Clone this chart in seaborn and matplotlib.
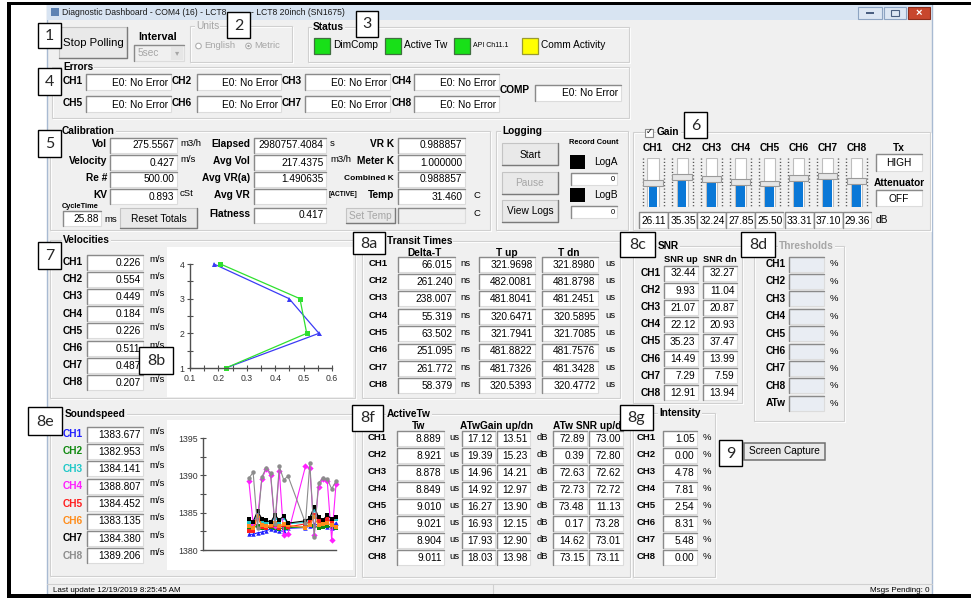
import matplotlib
matplotlib.use('Agg')
import matplotlib.pyplot as plt
from matplotlib.patches import Rectangle, Circle
import pandas as pd
import seaborn as sns

# ---- values ----
channels = ['CH1', 'CH2', 'CH3', 'CH4', 'CH5', 'CH6', 'CH7', 'CH8']
error_text = ['E0: No Error'] * 8
comp_error = 'E0: No Error'

cal_labels_1 = ['Vol', 'Velocity', 'Re #', 'KV']
cal_values_1 = ['275.5567', '0.427', '500.00', '0.893']
cal_units_1 = ['m3/h', 'm/s', '', 'cSt']
cal_labels_2 = ['Elapsed', 'Avg Vol', 'Avg VR(a)', 'Avg VR', 'Flatness']
cal_values_2 = ['2980757.4084', '217.4375', '1.490635', '', '0.417']
cal_units_2 = ['s', 'm3/h', '', '', '']
cal_labels_3 = ['VR K', 'Meter K', 'Combined K', 'Temp']
cal_values_3 = ['0.988857', '1.000000', '0.988857', '31.460']
cycle_time = '25.88'

gain_db = [26.11, 35.35, 32.24, 27.85, 25.50, 33.31, 37.10, 29.36]
gain_range = (-10, 64)

velocities = [0.226, 0.554, 0.449, 0.184, 0.226, 0.511, 0.487, 0.207]
profile_levels = [1, 2, 3, 4]

delta_t = [66.015, 261.240, 238.007, 55.319, 63.502, 251.095, 261.772, 58.379]
t_up = [321.9698, 482.0081, 481.8041, 320.6471, 321.7941, 481.8822, 481.7326, 320.5393]
t_dn = [321.8980, 481.8798, 481.2451, 320.5895, 321.7085, 481.7576, 481.3428, 320.4772]

snr_up = [32.44, 9.93, 21.07, 22.12, 35.23, 14.49, 7.29, 12.91]
snr_dn = [32.27, 11.04, 20.87, 20.93, 37.47, 13.99, 7.59, 13.94]

soundspeed = [1383.677, 1382.953, 1384.141, 1388.807, 1384.452, 1383.135, 1384.380, 1389.206]
ss_time = [11, 12, 13, 14, 15, 16, 17, 18, 19, 20, 24, 25, 26, 27, 28, 29, 30, 31]
ss_ch1 = [1382.1, 1382.1, 1382.3, 1382.4, 1382.6, 1382.8, 1382.7, 1382.6, 1382.5, 1382.9,
          1383.0, 1383.2, 1383.5, 1383.3, 1383.4, 1383.1, 1383.0, 1383.677]
ss_ch2 = [1382.9, 1383.0, 1383.2, 1383.0, 1382.9, 1383.1, 1383.0, 1382.8, 1383.0, 1383.0,
          1383.1, 1383.4, 1383.2, 1383.0, 1383.1, 1383.2, 1383.1, 1382.953]
ss_ch3 = [1383.6, 1383.4, 1384.8, 1383.9, 1383.5, 1383.7, 1384.3, 1383.8, 1384.3, 1383.5,
          1383.7, 1384.1, 1385.3, 1384.0, 1383.8, 1384.2, 1383.9, 1384.141]
ss_ch4 = [1389.3, 1383.5, 1384.4, 1389.5, 1390.9, 1390.0, 1383.2, 1390.6, 1382.0, 1382.2,
          1391.2, 1391.0, 1382.0, 1388.5, 1389.5, 1389.2, 1381.4, 1388.807]
ss_ch5 = [1382.6, 1382.6, 1384.6, 1383.1, 1383.0, 1383.2, 1383.4, 1383.0, 1383.3, 1383.1,
          1383.5, 1383.8, 1384.7, 1383.9, 1383.6, 1384.2, 1383.7, 1384.452]
ss_ch6 = [1383.2, 1383.0, 1384.5, 1383.4, 1383.2, 1383.3, 1383.6, 1383.2, 1383.5, 1383.3,
          1383.0, 1383.4, 1384.4, 1383.3, 1383.5, 1383.6, 1383.3, 1383.135]
ss_ch7 = [1384.1, 1383.8, 1385.2, 1384.2, 1384.0, 1383.7, 1384.7, 1384.0, 1384.6, 1383.6,
          1383.9, 1384.3, 1385.8, 1384.4, 1384.0, 1384.7, 1384.1, 1384.380]
ss_ch8 = [1389.6, 1390.4, 1383.0, 1389.8, 1391.0, 1390.3, 1383.5, 1391.2, 1389.4, 1389.9,
          1383.6, 1391.6, 1381.8, 1389.0, 1389.6, 1389.5, 1388.2, 1389.206]
ss_colors = ['#1f1fff', '#118a11', '#1fc8c8', '#ff1fff', '#ff1f1f', '#ff8c1a', '#000000', '#8c8c8c']
ss_markers = ['^', 's', 's', 'D', 's', 's', 's', 'o']

tw = [8.889, 8.921, 8.878, 8.849, 9.010, 9.021, 8.904, 9.011]
atw_gain_up = [17.12, 19.39, 14.96, 14.92, 16.27, 16.93, 17.93, 18.03]
atw_gain_dn = [13.51, 15.23, 14.21, 12.97, 13.90, 12.15, 12.90, 13.98]
atw_snr_up = [72.89, 0.39, 72.63, 72.73, 73.48, 0.17, 14.62, 73.15]
atw_snr_dn = [73.00, 72.80, 72.62, 72.72, 11.13, 73.28, 73.01, 73.11]

intensity = [1.05, 0.00, 4.78, 7.81, 2.54, 8.31, 5.48, 0.00]

# ---- canvas ----
sns.set_theme(style='white')
plt.rcParams['font.family'] = ['Liberation Sans', 'DejaVu Sans']

W, H = 971, 598
fig = plt.figure(figsize=(W / 100, H / 100), dpi=100)
fig.patch.set_facecolor('white')
ui = fig.add_axes([0, 0, 1, 1])
ui.set_xlim(0, W)
ui.set_ylim(H, 0)
ui.axis('off')

BG = '#f0f0f0'
FS = 7.3


def px_axes(x0, y0, x1, y1):
    return fig.add_axes([x0 / W, 1 - y1 / H, (x1 - x0) / W, (y1 - y0) / H])


def box(x0, y0, x1, y1, fc='none', ec='none', lw=0.8, z=1):
    ui.add_patch(Rectangle((x0, y0), x1 - x0, y1 - y0, facecolor=fc,
                           edgecolor=ec, linewidth=lw, zorder=z))


def label(x, y, s, ha='left', size=FS, bold=False, color='black', z=6, **kw):
    return ui.text(x, y, s, ha=ha, va='center', fontsize=size,
                   fontweight='bold' if bold else 'normal', color=color, zorder=z, **kw)


def field(x0, y0, x1, y1, s='', ha='right', fc='white', size=FS, clip=False):
    box(x0, y0, x1, y1, fc=fc, ec='#dcdcdc', lw=0.8, z=3)
    ui.plot([x0, x0, x1], [y1, y0, y0], color='#8a8a8a', lw=1.0, zorder=4)
    if s:
        x = {'right': x1 - 2.5, 'left': x0 + 2, 'center': (x0 + x1) / 2}[ha]
        t = label(x, (y0 + y1) / 2 + 0.5, s, ha=ha, size=size)
        if clip:
            t.set_clip_path(Rectangle((x0, y0), x1 - x0, y1 - y0, transform=ui.transData))


def group(x0, y0, x1, y1, title, tx, color='black', bold=True):
    box(x0 + 1, y0 + 1, x1 + 1, y1 + 1, ec='white', lw=0.8, z=1)
    box(x0, y0, x1, y1, ec='#d0d0d0', lw=0.8, z=1)
    label(tx, y0, title, bold=bold, color=color,
          bbox=dict(facecolor=BG, edgecolor='none', pad=0.8))


def button(x0, y0, x1, y1, s, enabled=True, size=FS):
    box(x0, y0, x1, y1, fc='#e9e9e9', ec='#c4c4c4', lw=0.8, z=3)
    ui.plot([x0, x1, x1], [y1, y1, y0], color='#7a7a7a', lw=1.0, zorder=4)
    label((x0 + x1) / 2, (y0 + y1) / 2 + 0.5, s, ha='center', size=size,
          color='black' if enabled else '#a6a6a6')


def tag(x0, y0, x1, y1, s):
    box(x0, y0, x1, y1, fc='white', ec='black', lw=1.0, z=9)
    ui.text((x0 + x1) / 2, (y0 + y1) / 2 + 0.5, s, ha='center', va='center',
            fontsize=11.5, family=['Lato', 'DejaVu Sans'], zorder=10)


# window
box(47, 4, 932, 598, fc=BG, ec='#a8bad2', lw=1.0, z=0.5)
box(47, 4, 932, 20, fc='#d8e4f2', z=0.6)
box(51, 8, 59, 16, fc='#5d82b3', z=1)
label(62, 12.5, 'Diagnostic Dashboard - COM4 (16) - LCT8', size=6.2, color='#1a1a1a')
label(251, 12.5, '- LCT8 20inch (SN1675)', size=6.2, color='#1a1a1a')
box(858, 7, 882, 19, fc='#dde7f3', ec='#8da4c2', lw=0.8, z=2)
box(866, 12, 874, 14, fc='#4a5f80', z=3)
box(884, 7, 906, 19, fc='#dde7f3', ec='#8da4c2', lw=0.8, z=2)
box(891, 10, 899, 16, ec='#4a5f80', lw=0.8, z=3)
box(908, 7, 930, 19, fc='#c8472d', ec='#8d2e1c', lw=0.8, z=2)
label(919, 13, '×', ha='center', size=8, color='white', bold=True)

# status bar
ui.plot([47, 932], [583.5, 583.5], color='#d0d0d0', lw=0.8, zorder=2)
ui.plot([493, 493], [584, 594], color='#d0d0d0', lw=0.8, zorder=2)
label(53, 590, 'Last update 12/19/2019 8:25:45 AM', size=5.8)
label(930, 590, 'Msgs Pending: 0', ha='right', size=5.8)

# top row
button(59, 27, 127, 58, 'Stop Polling', size=8.2)
tag(38, 23, 61, 48, '1')
label(158, 37, 'Interval', ha='center', bold=True, size=7.8)
field(134, 45, 184, 61, fc=BG)
label(138, 53.5, '5sec', color='#a6a6a6')
box(171, 47, 183, 60, fc='#e6e6e6', z=4)
label(177, 53.5, '▾', ha='center', size=6, color='#a6a6a6')
group(190, 26, 292, 62, 'Units', tx=196, color='#a6a6a6', bold=False)
ui.add_patch(Circle((198.5, 46), 2.8, facecolor='white', edgecolor='#b0b0b0', lw=0.8, zorder=4))
label(204, 46, 'English', size=6.8, color='#a6a6a6')
ui.add_patch(Circle((248.5, 46), 2.8, facecolor='white', edgecolor='#b0b0b0', lw=0.8, zorder=4))
ui.add_patch(Circle((248.5, 46), 1.2, facecolor='#a0a0a0', lw=0, zorder=5))
label(254, 46, 'Metric', size=6.8, color='#a6a6a6')
tag(227, 12, 250, 38, '2')
group(308, 27, 629, 62, 'Status', tx=313)
tag(356, 11, 378, 37, '3')
status_items = [(314, 'DimComp', '#18e018', FS), (385, 'Active Tw', '#18e018', FS),
                (454, 'API Ch11.1', '#18e018', 5.0), (522, 'Comm Activity', '#ffff00', FS)]
for sx, name, col, sz in status_items:
    box(sx, 38, sx + 16, 54, fc=col, ec='#3f6f3f' if col != '#ffff00' else '#9a9a30', lw=0.9, z=3)
    label(sx + 19, 45.5, name, size=sz)

# errors
group(52, 67, 629, 118, 'Errors', tx=63)
tag(38, 68, 61, 95, '4')
err_cols = [(63, 86, 171), (172, 197, 281), (282, 305, 390), (392, 414, 499)]
for r, yc in enumerate([82, 104]):
    for c, (lx, fx0, fx1) in enumerate(err_cols):
        i = r * 4 + c
        label(lx, yc - 1, channels[i], bold=True)
        field(fx0, yc - 8, fx1, yc + 8, error_text[i])
label(500, 90, 'COMP', bold=True)
field(535, 85, 621, 101, comp_error)

# calibration
group(50, 131, 490, 230, 'Calibration', tx=62)
tag(38, 130, 61, 157, '5')
cal_y = [145, 162, 179, 196]
for i, yc in enumerate(cal_y):
    label(107, yc - 1, cal_labels_1[i], ha='right', bold=True)
    field(110, yc - 7.5, 177, yc + 7.5, cal_values_1[i])
    label(180, yc - 2, cal_units_1[i], size=6.8)
for i, yc in enumerate(cal_y + [215]):
    label(250, yc - 1, cal_labels_2[i], ha='right', bold=True)
    field(254, yc - 7.5, 326, yc + 7.5, cal_values_2[i])
    label(330, yc - 2, cal_units_2[i], size=6.8)
for i, yc in enumerate(cal_y):
    label(394, yc - 1, cal_labels_3[i], ha='right', bold=True,
          size=6.0 if cal_labels_3[i] == 'Combined K' else FS)
    field(398, yc - 7.5, 465, yc + 7.5, cal_values_3[i])
label(357, cal_y[3] - 1.5, '[ACTIVE]', ha='right', size=4.8, bold=True)
label(474, cal_y[3] - 1, 'C', size=6.8)
label(62, 206, 'CycleTime', size=5.3, bold=True)
field(63, 211, 101, 226, cycle_time)
label(104, 219, 'ms', size=6.8)
button(120, 208, 197, 228, 'Reset Totals')
button(346, 208, 395, 223, 'Set Temp', enabled=False)
field(398, 208, 465, 223, fc=BG)
label(474, 213, 'C', size=6.8)

# logging
group(496, 131, 628, 230, 'Logging', tx=502)
button(502, 143, 558, 165, 'Start')
button(502, 172, 558, 194, 'Pause', enabled=False)
button(502, 200, 558, 222, 'View Logs')
label(594, 142, 'Record Count', ha='center', size=5.4, bold=True)
for yb, name in [(155, 'LogA'), (188, 'LogB')]:
    box(570, yb, 585, yb + 14, fc='black', z=3)
    label(594, yb + 7, name)
    field(571, yb + 18, 617, yb + 30, '0', size=5.4)

# gain
group(633, 132, 930, 230, 'Gain', tx=657)
box(645, 128.5, 653, 136.5, fc='white', ec='#8a8a8a', lw=0.8, z=7)
label(649, 132.5, '✓', ha='center', size=6, z=8)
tag(684, 112, 707, 138, '6')
gain_cx = [653 + 29.1 * i for i in range(8)]
for i, cx in enumerate(gain_cx):
    label(cx, 148, channels[i], ha='center', bold=True)
    ui.vlines([cx - 10.5, cx + 10.5], 158, 206, colors='#4a4a4a',
              linestyles=(0, (0.8, 1.6)), lw=1.0, zorder=2)
    field(cx - 14, 212, cx + 14, 228, f'{gain_db[i]:.2f}', ha='left', clip=True)
label(876, 220, 'dB')
label(899, 148, 'Tx', ha='center', bold=True)
field(876, 154, 922, 171, 'HIGH', ha='center')
label(899, 183, 'Attenuator', ha='center', bold=True)
field(876, 190, 922, 206, 'OFF', ha='center')

gax = px_axes(gain_cx[0] - 14.55, 158, gain_cx[-1] + 14.55, 207)
gax.set_axis_off()
lo, hi = gain_range
xs = list(range(8))
gax.bar(xs, hi - lo, bottom=lo, width=0.38, color='white', edgecolor='#bdbdbd', lw=0.8)
gax.bar(xs, [g - lo for g in gain_db], bottom=lo, width=0.3, color='#0a78d7', lw=0)
gax.bar(xs, 9, bottom=[g - 4.5 for g in gain_db], width=0.66, color='#e6e6e6',
        edgecolor='#9a9a9a', lw=0.8)
gax.set_xlim(-0.5, 7.5)
gax.set_ylim(lo, hi)

# velocities
group(50, 240, 355, 398, 'Velocities', tx=63)
tag(38, 242, 61, 269, '7')
box(167, 247, 353, 397, fc='white', z=2)
for i in range(8):
    yc = 262 + 17.2 * i
    label(63, yc, channels[i], bold=True)
    field(87, yc - 7.5, 143, yc + 7.5, f'{velocities[i]:.3f}')
    label(149, yc - 3, 'm/s', size=6.8)
tag(139, 347, 173, 374, '8b')

vel_df = pd.DataFrame({
    'velocity': velocities,
    'level': profile_levels * 2,
    'group': ['CH1-4'] * 4 + ['CH5-8'] * 4,
})
vax = px_axes(190, 264, 332, 368)
vax.patch.set_alpha(0)
sns.lineplot(data=vel_df, x='velocity', y='level', hue='group', style='group',
             palette={'CH1-4': '#3b3bf5', 'CH5-8': '#2fe02f'},
             markers={'CH1-4': '^', 'CH5-8': 's'}, dashes=False, sort=False,
             estimator=None, legend=False, lw=0.9, markersize=3.6, markeredgewidth=0,
             clip_on=False, ax=vax)
vax.set_xlim(0.1, 0.6)
vax.set_ylim(1, 4)
vax.set_xticks([0.1, 0.2, 0.3, 0.4, 0.5, 0.6])
vax.set_xticklabels(['0.1', '0.2', '0.3', '0.4', '0.5', '0.6'])
vax.set_xticks([0.15, 0.25, 0.35, 0.45, 0.55], minor=True)
vax.set_yticks([1, 2, 3, 4])
vax.set_yticks([1.5, 2.5, 3.5], minor=True)

# transit times
group(362, 241, 620, 398, 'Transit Times', tx=387)
tag(353, 232, 385, 254, '8a')
label(425, 253, 'Delta-T', ha='center', bold=True)
label(507, 253, 'T up', ha='center', bold=True)
label(569, 253, 'T dn', ha='center', bold=True)
for i in range(8):
    yc = 264 + 17.4 * i
    label(369, yc - 1, channels[i], bold=True, size=6.8)
    field(398, yc - 7.5, 455, yc + 7.5, f'{delta_t[i]:.3f}')
    label(460, yc - 1, 'ns', size=6.8)
    field(479, yc - 7.5, 535, yc + 7.5, f'{t_up[i]:.4f}')
    field(542, yc - 7.5, 598, yc + 7.5, f'{t_dn[i]:.4f}')
    label(605, yc - 1, 'us', size=6.8)

# snr
group(633, 246, 742, 403, 'SNR', tx=658)
tag(620, 232, 655, 257, '8c')
label(681, 259, 'SNR up', ha='center', bold=True, size=6.7)
label(720, 259, 'SNR dn', ha='center', bold=True, size=6.7)
for i in range(8):
    yc = 273 + 17.1 * i
    label(641, yc, channels[i], bold=True)
    field(664, yc - 7.5, 698, yc + 7.5, f'{snr_up[i]:.2f}')
    field(703, yc - 7.5, 737, yc + 7.5, f'{snr_dn[i]:.2f}')

# thresholds
group(754, 246, 844, 421, 'Thresholds', tx=779, color='#a6a6a6')
tag(741, 232, 775, 257, '8d')
for i, name in enumerate(channels + ['ATw']):
    yc = 264 + 17.4 * i
    label(766, yc, name, bold=True)
    field(789, yc - 7.5, 824, yc + 7.5, fc='#e9edf3')
    label(830, yc, '%', size=6.8)

# soundspeed
group(50, 414, 355, 576, 'Soundspeed', tx=65)
tag(28, 407, 62, 435, '8e')
box(167, 420, 353, 570, fc='white', z=2)
for i in range(8):
    yc = 434 + 17.4 * i
    label(63, yc, channels[i], bold=True, color=ss_colors[i])
    field(87, yc - 7.5, 143, yc + 7.5, f'{soundspeed[i]:.3f}')
    label(149, yc - 3, 'm/s', size=6.8)

ss_series = [ss_ch1, ss_ch2, ss_ch3, ss_ch4, ss_ch5, ss_ch6, ss_ch7, ss_ch8]
ss_df = pd.DataFrame({
    't': ss_time * 8,
    'speed': [v for s in ss_series for v in s],
    'ch': [c for c in channels for _ in ss_time],
})
sax = px_axes(203, 438, 336, 550)
sax.patch.set_alpha(0)
sns.lineplot(data=ss_df, x='t', y='speed', hue='ch', style='ch',
             palette=dict(zip(channels, ss_colors)),
             markers=dict(zip(channels, ss_markers)), dashes=False,
             estimator=None, legend=False, lw=0.8, markersize=3.2,
             markeredgewidth=0, clip_on=False, ax=sax)
sax.set_xlim(0.5, 31)
sax.set_ylim(1380, 1395)
sax.set_xticks([])
sax.set_yticks([1380, 1385, 1390, 1395])
sax.set_yticks([1382.5, 1387.5, 1392.5], minor=True)

for ax in (vax, sax):
    ax.set_xlabel('')
    ax.set_ylabel('')
    ax.grid(False)
    for side in ('top', 'right'):
        ax.spines[side].set_visible(False)
    for side in ('left', 'bottom'):
        ax.spines[side].set_color('#505050')
        ax.spines[side].set_linewidth(1.0)
    ax.tick_params(which='major', direction='inout', length=5, width=0.8,
                   color='#505050', labelsize=6.3, labelcolor='#333333',
                   left=True, bottom=True, pad=1.5)
    ax.tick_params(which='minor', direction='inout', length=4, width=0.8,
                   color='#505050', left=True, bottom=True)
sax.tick_params(axis='x', which='both', bottom=False)

# active tw
group(362, 414, 630, 577, 'ActiveTw', tx=387)
tag(352, 405, 383, 431, '8f')
label(419, 426, 'Tw', ha='center', bold=True)
label(497, 426, 'ATwGain up/dn', ha='center', bold=True)
label(553, 426, 'ATw SNR up/dn', bold=True)
for i in range(8):
    yc = 438 + 17.1 * i
    label(368, yc - 1, channels[i], bold=True, size=6.8)
    field(397, yc - 7.5, 444, yc + 7.5, f'{tw[i]:.3f}')
    label(449, yc - 1, 'us', size=6.8)
    field(462, yc - 7.5, 495, yc + 7.5, f'{atw_gain_up[i]:.2f}')
    field(497, yc - 7.5, 530, yc + 7.5, f'{atw_gain_dn[i]:.2f}')
    label(537, yc - 1, 'dB', size=6.8)
    field(553, yc - 7.5, 587, yc + 7.5, f'{atw_snr_up[i]:.2f}')
    field(589, yc - 7.5, 623, yc + 7.5, f'{atw_snr_dn[i]:.2f}')

# intensity
group(633, 413, 715, 577, 'Intensity', tx=659)
tag(620, 405, 653, 430, '8g')
for i in range(8):
    yc = 438 + 17.1 * i
    label(637, yc - 1, channels[i], bold=True, size=6.8)
    field(663, yc - 7.5, 697, yc + 7.5, f'{intensity[i]:.2f}')
    label(703, yc - 1, '%', size=6.8)

tag(719, 440, 742, 466, '9')
box(744, 443, 825, 460, fc='#e9e9e9', ec='#6f6f6f', lw=1.1, z=3)
label(784.5, 451.5, 'Screen Capture', ha='center')

# black frame of the screenshot
box(7, 2, W, 5, fc='black', z=20)
box(7, 2, 11, H, fc='black', z=20)
box(7, 594, W, H, fc='black', z=20)

fig.savefig('out.png', dpi=100)
